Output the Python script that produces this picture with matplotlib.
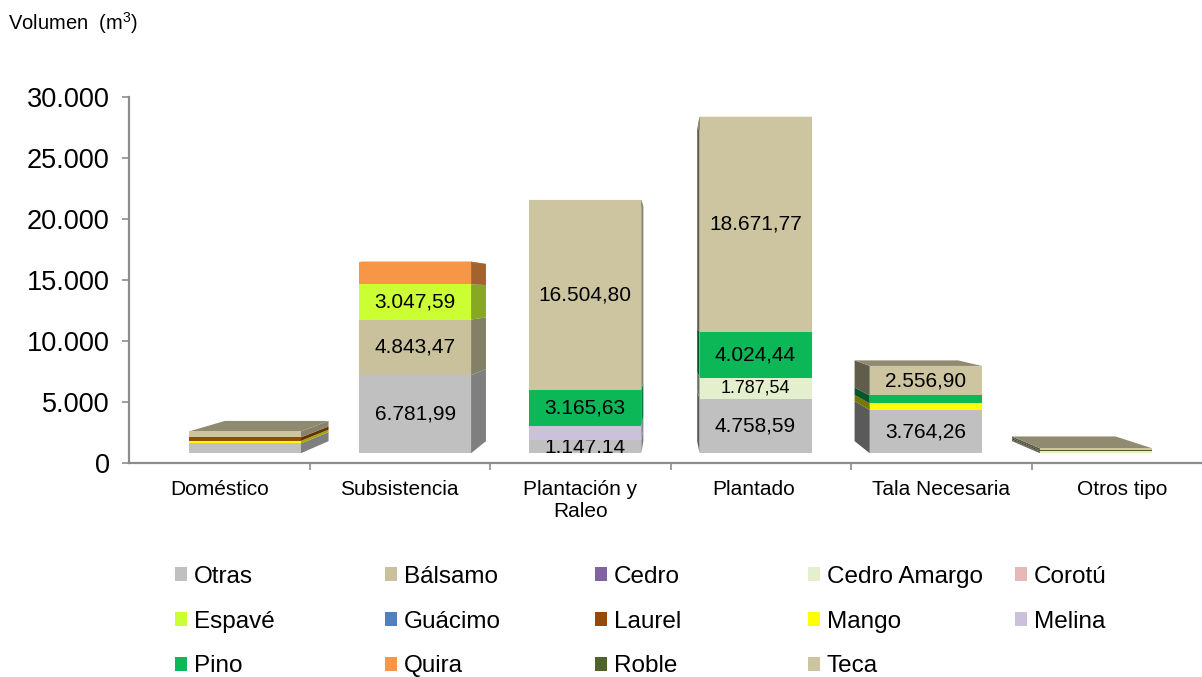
import matplotlib
matplotlib.use("Agg")
import matplotlib.pyplot as plt
from matplotlib.patches import Polygon, Patch, Rectangle
from matplotlib.colors import to_rgb
from matplotlib.transforms import ScaledTranslation

plt.rcParams['font.family'] = ['Liberation Sans', 'DejaVu Sans']
plt.rcParams['mathtext.default'] = 'regular'

categories = ['Doméstico', 'Subsistencia', 'Plantación y\nRaleo', 'Plantado', 'Tala Necesaria', 'Otros tipo']
y_ticks = [0, 5000, 10000, 15000, 20000, 25000, 30000]
y_labels = ['0', '5.000', '10.000', '15.000', '20.000', '25.000', '30.000']

species = ['Otras', 'Bálsamo', 'Cedro', 'Cedro Amargo', 'Corotú', 'Espavé', 'Guácimo',
           'Laurel', 'Mango', 'Melina', 'Pino', 'Quira', 'Roble', 'Teca']
colors = ['#C0C0C0', '#C8C19C', '#8064A2', '#E3EFCD', '#E6B9B8', '#CCFF33', '#4F81BD',
          '#984807', '#FFFF00', '#CCC1DA', '#0BB757', '#F79646', '#4F6228', '#CCC5A0']

otras        = [850, 6781.99, 1147.14, 4758.59, 3764.26, 0]
balsamo      = [0, 4843.47, 0, 0, 0, 0]
cedro        = [0, 0, 0, 0, 0, 0]
cedro_amargo = [0, 0, 0, 1787.54, 0, 170]
corotu       = [0, 0, 0, 0, 0, 0]
espave       = [0, 3047.59, 0, 0, 0, 0]
guacimo      = [0, 0, 0, 0, 0, 0]
laurel       = [300, 0, 0, 0, 0, 0]
mango        = [230, 0, 0, 0, 570, 0]
melina       = [0, 0, 1200, 0, 0, 0]
pino         = [0, 0, 3165.63, 4024.44, 700, 0]
quira        = [0, 1980, 0, 0, 0, 0]
roble        = [0, 0, 0, 0, 0, 90]
teca         = [520, 0, 16504.80, 18671.77, 2556.90, 180]
series = [otras, balsamo, cedro, cedro_amargo, corotu, espave, guacimo,
          laurel, mango, melina, pino, quira, roble, teca]

# Bottom-to-top order in the stacks (Mango lies under Laurel in the reference)
stack_order = ['Otras', 'Bálsamo', 'Cedro', 'Cedro Amargo', 'Corotú', 'Espavé', 'Guácimo',
               'Mango', 'Laurel', 'Melina', 'Pino', 'Quira', 'Roble', 'Teca']

# (category index, species name) of the segments that carry a value label
labelled = [(1, 'Otras'), (1, 'Bálsamo'), (1, 'Espavé'), (2, 'Otras'), (2, 'Pino'), (2, 'Teca'),
            (3, 'Otras'), (3, 'Cedro Amargo'), (3, 'Pino'), (3, 'Teca'), (4, 'Otras'), (4, 'Teca')]

W, H = 1202, 677
fig = plt.figure(figsize=(W / 100, H / 100), dpi=100, facecolor='white')
L, R, T, B = 129, 1202, 97, 463
ax = fig.add_axes([L / W, 1 - B / H, (R - L) / W, (B - T) / H])
ax.set_xlim(0, (R - L) / 180.5)
ax.set_ylim(0, 30000)
ax.patch.set_visible(False)

# perspective of the 3-D plot: everything shrinks towards a vanishing point
VPX, VPY = 2.99, 14000
S_FRONT, S_BACK = 0.943, 0.872
HALF = 0.329


def proj(x, y, s):
    return (VPX + s * (x - VPX), VPY + s * (y - VPY))


def shade(c, f):
    return tuple(v * f for v in to_rgb(c))


def fmt(v):
    return f'{v:,.2f}'.replace(',', '#').replace('.', ',').replace('#', '.')


for i in range(len(categories)):
    xc = i + 0.5
    xl, xr = xc - HALF, xc + HALF
    base = 0.0
    segs = []
    for name in stack_order:
        k = species.index(name)
        vals = series[k]
        if vals[i] > 0:
            segs.append((name, colors[k], base, base + vals[i]))
            base += vals[i]
    for name, col, y0, y1 in segs:
        if xr < VPX:
            ax.add_patch(Polygon([proj(xr, y0, S_FRONT), proj(xr, y0, S_BACK), proj(xr, y1, S_BACK), proj(xr, y1, S_FRONT)],
                                 fc=shade(col, 0.66), ec='none', zorder=2, clip_on=False))
        if xl > VPX:
            ax.add_patch(Polygon([proj(xl, y0, S_FRONT), proj(xl, y0, S_BACK), proj(xl, y1, S_BACK), proj(xl, y1, S_FRONT)],
                                 fc=shade(col, 0.47), ec='none', zorder=2, clip_on=False))
    name, col, y0, y1 = segs[-1]
    ax.add_patch(Polygon([proj(xl, y1, S_FRONT), proj(xr, y1, S_FRONT), proj(xr, y1, S_BACK), proj(xl, y1, S_BACK)],
                         fc=shade(col, 0.70), ec='none', zorder=3, clip_on=False))
    for name, col, y0, y1 in segs:
        a = proj(xl, y0, S_FRONT)
        b = proj(xr, y1, S_FRONT)
        ax.add_patch(Rectangle(a, b[0] - a[0], b[1] - a[1], fc=col, ec='none', zorder=4, clip_on=False))
        if (i, name) in labelled:
            t = ax.text((a[0] + b[0]) / 2, (a[1] + b[1]) / 2, fmt(y1 - y0), ha='center', va='center',
                        fontsize=13 if name == 'Cedro Amargo' else 15, color='black', zorder=5)
            if name == 'Otras' and i == 2:
                t.set_clip_path(Rectangle(a, b[0] - a[0], b[1] - a[1], transform=ax.transData))
                t.set_clip_on(True)

for s in ('top', 'right'):
    ax.spines[s].set_visible(False)
for s in ('left', 'bottom'):
    ax.spines[s].set_color('#8C8C8C')
    ax.spines[s].set_linewidth(1.6)

ax.set_yticks(y_ticks)
ax.set_yticklabels(y_labels, fontsize=19.5, color='black')
ax.tick_params(axis='y', length=5, width=1.2, color='#8C8C8C', pad=9)
ax.set_xticks(range(1, 6))
ax.set_xticklabels([])
ax.tick_params(axis='x', which='major', length=5, width=1.2, color='#8C8C8C')
ax.set_xticks([i + 0.5 for i in range(len(categories))], minor=True)
ax.set_xticklabels(categories, minor=True, fontsize=15, color='black', linespacing=1.25)
ax.tick_params(axis='x', which='minor', length=0, pad=12)
# The 'Plantado' label sits slightly left of its slot in the reference
minor_labels = ax.xaxis.get_minorticklabels()
minor_labels[3].set_transform(minor_labels[3].get_transform() + ScaledTranslation(-7 / 100, 0, fig.dpi_scale_trans))

fig.text(8 / W, 1 - 23 / H, 'Volumen  (m$^{3}$)', fontsize=14.5, ha='left', va='center', color='black')

col_x = [175, 385, 595, 808, 1015]
for c, x in enumerate(col_x):
    names = species[c::5]
    cols = colors[c::5]
    handles = [Patch(fc=k, ec='none', label=n) for n, k in zip(names, cols)]
    leg = fig.legend(handles=handles, loc='upper left', bbox_to_anchor=(x / W, 1 - 566 / H),
                     bbox_transform=fig.transFigure, frameon=False, fontsize=17.5, ncol=1,
                     handlelength=0.5, handleheight=0.5, handletextpad=0.27, labelspacing=0.93,
                     borderpad=0, borderaxespad=0)

fig.savefig('out.png', dpi=100, facecolor='white')
